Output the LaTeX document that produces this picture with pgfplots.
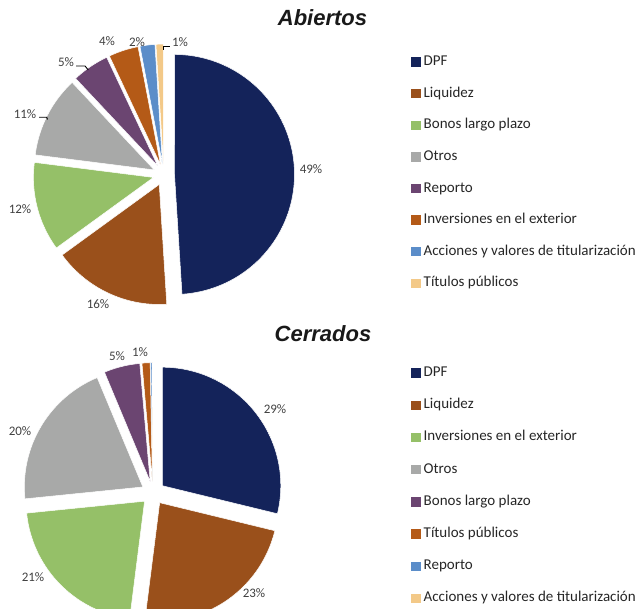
\documentclass[border=0pt]{standalone}
\usepackage{fontspec}
\setmainfont{Carlito}
\newfontfamily\titlefont{Liberation Sans}
\usepackage{pgfplots}
\pgfplotsset{compat=1.18}

\definecolor{cDPF}{HTML}{14235A}
\definecolor{cLiq}{HTML}{9A501B}
\definecolor{cGrn}{HTML}{95C068}
\definecolor{cGry}{HTML}{A8A9A8}
\definecolor{cPur}{HTML}{6B4571}
\definecolor{cOra}{HTML}{B45A17}
\definecolor{cBlu}{HTML}{5B8DC9}
\definecolor{cYel}{HTML}{F3C988}
\definecolor{labtext}{HTML}{404040}
\definecolor{legtext}{HTML}{262626}

% pie geometry (centre, radius, explosion) set per chart
\def\cx{0}\def\cy{0}\def\R{100}\def\ex{10}\def\piestart{90}
% value (percent), colour, legend text
\newcommand{\pieslice}[3]{%
  \pgfmathsetmacro{\sa}{\piestart}%
  \pgfmathsetmacro{\sb}{\piestart-3.6*#1}%
  \pgfmathsetmacro{\sm}{(\sa+\sb)/2}%
  \pgfmathsetmacro{\ax}{\cx+\ex*cos(\sm)}%
  \pgfmathsetmacro{\ay}{\cy+\ex*sin(\sm)}%
  \edef\temp{\noexpand\addplot[fill=#2, draw=white, line width=0.5pt, domain=\sb:\sa, samples=80]
    ({\ax+\R*cos(x)},{\ay+\R*sin(x)}) -- (axis cs:\ax,\ay) -- cycle;}%
  \temp
  \addlegendentry{#3}%
  \xdef\piestart{\sb}%
}

\pgfplotsset{
  pieax/.style={
    at={(0,0)}, anchor=south west,
    width=638pt, height=609pt, scale only axis,
    xmin=0, xmax=638, ymin=0, ymax=609,
    hide axis, clip=true,
    legend cell align=left,
    legend image code/.code={\fill[##1,draw=none] (0pt,-4.75pt) rectangle (9.5pt,4.75pt);},
    legend style={draw=none, fill=none, anchor=north west,
      font=\fontsize{15}{17}\selectfont, text=legtext,
      inner sep=0pt, column sep=3pt,
      nodes={inner sep=0pt, text height=10pt, text depth=3pt}},
  },
}

\begin{document}
\begin{tikzpicture}
% ---------------- Abiertos ----------------
\begin{axis}[pieax,
  legend style={at={(411/638,0.909)}, row sep=18.6pt}]
  \def\cx{163.8}\def\cy{434.2}\def\R{120}\def\ex{10.7}\xdef\piestart{90}
  \pieslice{49}{cDPF}{DPF}
  \pieslice{16}{cLiq}{Liquidez}
  \pieslice{12}{cGrn}{Bonos largo plazo}
  \pieslice{11}{cGry}{Otros}
  \pieslice{5}{cPur}{Reporto}
  \pieslice{4}{cOra}{Inversiones en el exterior}
  \pieslice{2}{cBlu}{Acciones y valores de titularización}
  \pieslice{1}{cYel}{Títulos públicos}
  % leader lines
  \addplot[black, line width=0.9pt, forget plot] coordinates {(39,491.7) (46.7,491.7) (47.5,489.5)};
  \addplot[black, line width=0.9pt, forget plot] coordinates {(76,543) (85,543) (88.3,539)};
  \addplot[black, line width=0.9pt, forget plot] coordinates {(163.3,559) (163.3,562.3) (170,562.3)};
  % labels
  \begin{scope}[every node/.style={font=\fontsize{13}{15}\selectfont, text=labtext}]
  \node at (axis cs:311,440) {49\%};
  \node at (axis cs:98,305) {16\%};
  \node at (axis cs:20,400) {12\%};
  \node at (axis cs:25,495) {11\%};
  \node at (axis cs:66,547) {5\%};
  \node at (axis cs:107,568) {4\%};
  \node at (axis cs:137,567) {2\%};
  \node at (axis cs:180,567) {1\%};
  \end{scope}
  \node[anchor=base, font=\titlefont\bfseries\itshape\fontsize{22}{24}\selectfont, text=black!90]
    at (axis cs:322.5,583) {Abiertos};
\end{axis}
% ---------------- Cerrados ----------------
\begin{axis}[pieax,
  legend style={at={(411/638,0.3984)}, row sep=19.2pt}]
  \def\cx{153}\def\cy{116}\def\R{118.5}\def\ex{11.8}\xdef\piestart{90}
  \pieslice{28.8}{cDPF}{DPF}
  \pieslice{23.2}{cLiq}{Liquidez}
  \pieslice{21.4}{cGrn}{Inversiones en el exterior}
  \pieslice{20.3}{cGry}{Otros}
  \pieslice{4.9}{cPur}{Bonos largo plazo}
  \pieslice{1.1}{cOra}{Títulos públicos}
  \pieslice{0.2}{cBlu}{Reporto}
  \pieslice{0.1}{cYel}{Acciones y valores de titularización}
  \begin{scope}[every node/.style={font=\fontsize{13}{15}\selectfont, text=labtext}]
  \node at (axis cs:275,200) {29\%};
  \node at (axis cs:254,16) {23\%};
  \node at (axis cs:33,32) {21\%};
  \node at (axis cs:20,178) {20\%};
  \node at (axis cs:117,253) {5\%};
  \node at (axis cs:140,257) {1\%};
  \end{scope}
  \node[anchor=base, font=\titlefont\bfseries\itshape\fontsize{22}{24}\selectfont, text=black!90]
    at (axis cs:323,267.3) {Cerrados};
\end{axis}
\pgfresetboundingbox
\useasboundingbox (0,0) rectangle (638pt,609pt);
\end{tikzpicture}
\end{document}
